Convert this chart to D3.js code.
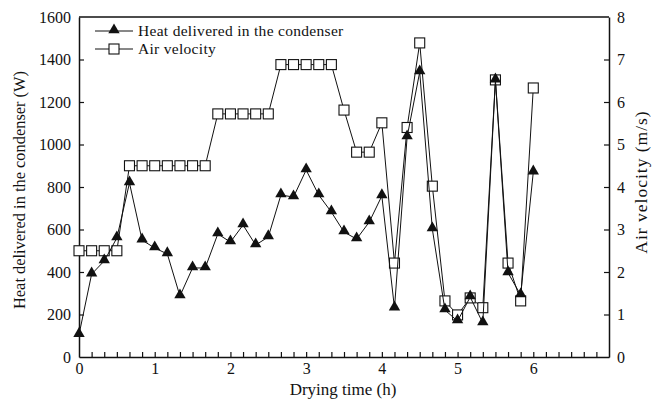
<!DOCTYPE html>
<html>
<head>
<meta charset="utf-8">
<script src="https://cdn.jsdelivr.net/npm/d3@7"></script>
<style>
  body { margin: 0; background: #fff; }
  svg text { font-family: "Liberation Serif", "Times New Roman", serif; fill: #111; }
</style>
</head>
<body>
<svg id="chart" width="652" height="405"></svg>
<script>
// drying time in h, one reading every 10 min
const times = d3.range(37).map((i) => i / 6)
const heat = [105, 390, 452, 560, 819, 550, 513, 485, 287, 419, 419, 579, 541, 621, 527, 565,
  762, 753, 880, 762, 682, 588, 555, 635, 758, 230, 1035, 1341, 602, 221, 169, 282, 160,
  1303, 396, 292, 870]
const velocity = [2.5, 2.5, 2.5, 2.5, 4.5, 4.5, 4.5, 4.5, 4.5, 4.5, 4.5, 5.72, 5.72, 5.72, 5.72, 5.72,
  6.88, 6.88, 6.88, 6.88, 6.88, 5.81, 4.82, 4.82, 5.51, 2.21, 5.4, 7.39, 4.02, 1.32, 0.99, 1.39, 1.16,
  6.52, 2.21, 1.32, 6.33]
const xTicks = [0, 1, 2, 3, 4, 5, 6]
const heatTicks = [0, 200, 400, 600, 800, 1000, 1200, 1400, 1600]
const velTicks = [0, 1, 2, 3, 4, 5, 6, 7, 8]
const legendNames = ['Heat delivered in the condenser', 'Air velocity']

const margin = { left: 79, right: 43, top: 17, bottom: 48 }
const width = 652 - margin.left - margin.right
const height = 405 - margin.top - margin.bottom

const svg = d3.select('#chart')
const g = svg.append('g').attr('transform', `translate(${margin.left},${margin.top})`)

const x = d3.scaleLinear().domain([0, 7]).range([0, width])
const yHeat = d3.scaleLinear().domain([0, 1600]).range([height, 0])
const yVel = d3.scaleLinear().domain([0, 8]).range([height, 0])

// axes, ticks pointing inwards; minor ticks every 10 min
const isLabelled = (d) => xTicks.some((t) => Math.abs(t - d) < 1e-6)
const xAxis = g.append('g').attr('transform', `translate(0,${height})`)
  .call(d3.axisBottom(x).tickValues(d3.range(0, 42).map((i) => i / 6)).tickSizeInner(-5).tickSizeOuter(0)
    .tickFormat((d) => (isLabelled(d) ? d3.format('d')(Math.round(d)) : '')))
const leftAxis = g.append('g')
  .call(d3.axisLeft(yHeat).tickValues(heatTicks).tickFormat(d3.format('d'))
    .tickSizeInner(-5).tickSizeOuter(0).tickPadding(8))
const rightAxis = g.append('g').attr('transform', `translate(${width},0)`)
  .call(d3.axisRight(yVel).tickValues(velTicks).tickFormat(d3.format('d'))
    .tickSizeInner(-5).tickSizeOuter(0).tickPadding(8))

;[xAxis, leftAxis, rightAxis].forEach((a) => {
  a.selectAll('.domain').attr('stroke', '#111').attr('stroke-width', 1.5)
  a.selectAll('.tick line').attr('stroke', '#111').attr('stroke-width', 1.2)
  a.selectAll('text').attr('font-size', 16)
})
xAxis.selectAll('text').attr('dy', '0.9em')
// no ticks on the frame corners
leftAxis.selectAll('.tick').filter((d) => d === 0 || d === 1600).select('line').remove()
rightAxis.selectAll('.tick').filter((d) => d === 0 || d === 8).select('line').remove()
xAxis.selectAll('.tick').filter((d) => d === 0 || d > 6.99).select('line').remove()

g.append('line').attr('x1', 0).attr('x2', width).attr('y1', 0).attr('y2', 0)
  .attr('stroke', '#111').attr('stroke-width', 1.5)

// air velocity
const velLine = d3.line().x((d, i) => x(times[i])).y((d) => yVel(d))
g.append('path').datum(velocity).attr('d', velLine)
  .attr('fill', 'none').attr('stroke', '#111').attr('stroke-width', 1)
const sq = 10
g.selectAll('rect.vel').data(velocity).enter().append('rect')
  .attr('class', 'vel')
  .attr('x', (d, i) => x(times[i]) - sq / 2)
  .attr('y', (d) => yVel(d) - sq / 2)
  .attr('width', sq).attr('height', sq)
  .attr('fill', '#fff').attr('stroke', '#111').attr('stroke-width', 1.1)

// heat delivered
const heatLine = d3.line().x((d, i) => x(times[i])).y((d) => yHeat(d))
g.append('path').datum(heat).attr('d', heatLine)
  .attr('fill', 'none').attr('stroke', '#111').attr('stroke-width', 1)
const tri = d3.symbol().type(d3.symbolTriangle).size(56)
g.selectAll('path.heat').data(heat).enter().append('path')
  .attr('class', 'heat')
  .attr('transform', (d, i) => `translate(${x(times[i])},${yHeat(d) - 1})`)
  .attr('d', tri)
  .attr('fill', '#111')

// legend
const legend = g.append('g').attr('transform', 'translate(16,14)')
legendNames.forEach((name, i) => {
  const row = legend.append('g').attr('transform', `translate(0,${i * 18})`)
  row.append('line').attr('x1', 0).attr('x2', 38).attr('stroke', '#111').attr('stroke-width', 1)
  if (i === 0) {
    row.append('path').attr('d', tri).attr('transform', 'translate(19,-1)').attr('fill', '#111')
  } else {
    row.append('rect').attr('x', 19 - sq / 2).attr('y', -sq / 2).attr('width', sq).attr('height', sq)
      .attr('fill', '#fff').attr('stroke', '#111').attr('stroke-width', 1.1)
  }
  row.append('text').attr('x', 43).attr('y', 5).attr('font-size', 15.5).attr('letter-spacing', 0.3).text(name)
})

// axis titles
svg.append('text')
  .attr('transform', `translate(${margin.left + width / 2 - 1},${395})`)
  .attr('text-anchor', 'middle').attr('font-size', 17).text('Drying time (h)')
svg.append('text')
  .attr('transform', `translate(25,${190}) rotate(-90)`)
  .attr('text-anchor', 'middle').attr('font-size', 16.4).text('Heat delivered in the condenser (W)')
svg.append('text')
  .attr('transform', `translate(647,${182}) rotate(-90)`)
  .attr('text-anchor', 'middle').attr('font-size', 17.5).attr('letter-spacing', 1).text('Air velocity (m/s)')
</script>
</body>
</html>
